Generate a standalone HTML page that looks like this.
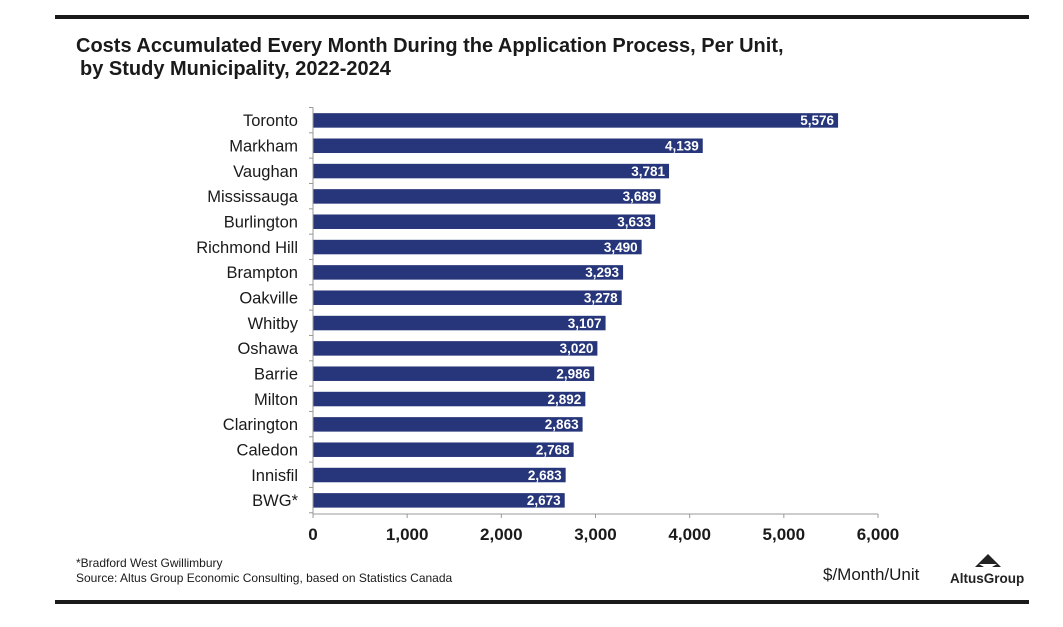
<!DOCTYPE html>
<html><head><meta charset="utf-8"><style>
body{margin:0;background:#fff;}
svg{display:block;font-family:"Liberation Sans",Arial,sans-serif;}
</style></head><body>
<svg width="1063" height="627" viewBox="0 0 1063 627">
<rect x="55" y="15" width="974" height="4" fill="#1a1a1a"/>
<text x="76" y="52" font-size="20" font-weight="bold" fill="#1a1a1a">Costs Accumulated Every Month During the Application Process, Per Unit,</text>
<text x="80" y="75" font-size="20" font-weight="bold" fill="#1a1a1a">by Study Municipality, 2022-2024</text>
<g id="bars"></g>
<g id="axis"></g>
<text x="76" y="567" font-size="12" fill="#1a1a1a">*Bradford West Gwillimbury</text>
<text x="76" y="582" font-size="12" fill="#1a1a1a">Source:  Altus Group Economic Consulting, based on Statistics Canada</text>
<text x="823" y="580" font-size="17" fill="#1a1a1a">$/Month/Unit</text>
<g>
<polygon points="988,554 975,567 1001,567" fill="#222"/>
<polygon points="979,564 997,564 992,567 984,567" fill="#fff"/>
<text x="950" y="583" font-size="13.5" font-weight="bold" fill="#222">AltusGroup</text>
</g>
<rect x="55" y="600" width="974" height="4" fill="#1a1a1a"/>
<script>
const categories=["Toronto","Markham","Vaughan","Mississauga","Burlington","Richmond Hill","Brampton","Oakville","Whitby","Oshawa","Barrie","Milton","Clarington","Caledon","Innisfil","BWG*"];
const values=[5576,4139,3781,3689,3633,3490,3293,3278,3107,3020,2986,2892,2863,2768,2683,2673];
const tickValues=[0,1000,2000,3000,4000,5000,6000];
const tickLabels=["0","1,000","2,000","3,000","4,000","5,000","6,000"];
const NS="http://www.w3.org/2000/svg";
const x0=313,x1=878,xMax=6000;
function xs(v){return x0+(x1-x0)*v/xMax;}
const yTop=107.5,step=25.33;
function yc(i){return yTop+step*i+step/2;}
function mk(tag,attrs,parent){const e=document.createElementNS(NS,tag);for(const k in attrs)e.setAttribute(k,attrs[k]);parent.appendChild(e);return e;}
const gb=document.getElementById('bars'),ga=document.getElementById('axis');
categories.forEach((c,i)=>{
  const cy=yc(i);
  const r=mk('rect',{x:xs(0),y:cy-7,width:xs(values[i])-xs(0),height:14.5,fill:'#27367a'},gb);
  
  
  const t=mk('text',{x:xs(values[i])-4,y:cy+5,'font-size':13.5,'font-weight':'bold',fill:'#fff','text-anchor':'end'},gb);
  t.textContent=values[i].toLocaleString('en-US');
  
  
  const l=mk('text',{x:298,y:cy+6,'font-size':16.5,fill:'#1a1a1a','text-anchor':'end'},gb);
  l.textContent=c;
  
  
});
const ay=mk('line',{x1:x0,y1:yTop,x2:x0,y2:514,stroke:'#999','stroke-width':1},ga);


for(let i=0;i<=categories.length;i++){mk('line',{x1:x0-4,y1:yTop+step*i,x2:x0,y2:yTop+step*i,stroke:'#999'},ga);}
const ax=mk('line',{x1:x0,y1:514,x2:x1,y2:514,stroke:'#999','stroke-width':1},ga);


tickValues.forEach((v,i)=>{
  mk('line',{x1:xs(v),y1:514,x2:xs(v),y2:518,stroke:'#999'},ga);
  const t=mk('text',{x:xs(v),y:540,'font-size':17,'font-weight':'bold',fill:'#1a1a1a','text-anchor':'middle'},ga);
  t.textContent=tickLabels[i];
  
  
});
</script>
</svg>
</body></html>
